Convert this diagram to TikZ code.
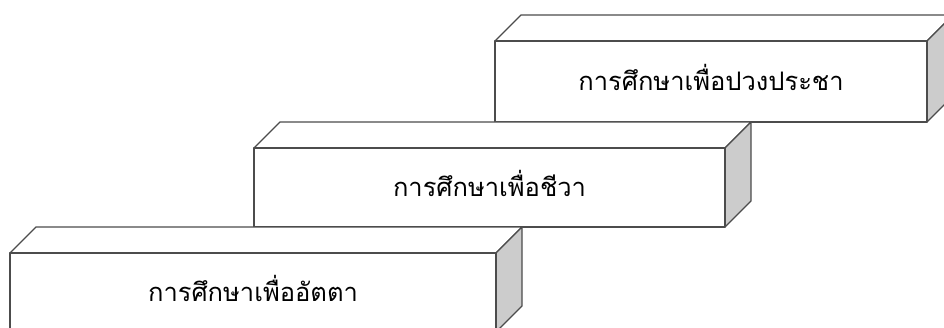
\documentclass[tikz,border=0pt]{standalone}
\usepackage{fontspec}
\newfontfamily\thaifont[Script=Thai]{Loma}
\usetikzlibrary{calc}
\tikzset{
  edge/.style={draw=black!70, line width=1.3pt, line join=round},
  frontface/.style={edge, fill=white},
  topface/.style={edge, fill=white},
  sideface/.style={edge, fill=black!20},
  boxlabel/.style={font=\thaifont\fontsize{25.5}{29}\selectfont, text=black, inner sep=0pt},
}
% #1 name, #2 left x, #3 bottom y, #4 right x, #5 top y, #6 text
\newcommand\cubebox[6]{%
  \coordinate (#1-bl) at (#2,#3);
  \coordinate (#1-br) at (#4,#3);
  \coordinate (#1-tr) at (#4,#5);
  \coordinate (#1-tl) at (#2,#5);
  \coordinate (#1-btl) at ($(#1-tl)+(26,26)$);
  \coordinate (#1-btr) at ($(#1-tr)+(26,26)$);
  \coordinate (#1-bbr) at ($(#1-br)+(26,26)$);
  \path[topface] (#1-tl) -- (#1-btl) -- (#1-btr) -- (#1-tr) -- cycle;
  \path[sideface] (#1-tr) -- (#1-btr) -- (#1-bbr) -- (#1-br) -- cycle;
  \path[frontface] (#1-bl) rectangle (#1-tr);
  \node[boxlabel] (#1-text) at ($($(#1-bl)!0.5!(#1-tr)$)+(0,4)$) {#6};
}
\begin{document}
\begin{tikzpicture}[x=1pt,y=1pt]
  \useasboundingbox (0,0) rectangle (944,327);
  \clip (0,0) rectangle (944,327);
  \cubebox{c}{495}{205}{927}{286}{การศึกษาเพื่อปวงประชา}
  \cubebox{b}{254}{100}{725}{179}{การศึกษาเพื่อชีวา}
  \cubebox{a}{10}{-5}{496}{74}{การศึกษาเพื่ออัตตา}
\end{tikzpicture}
\end{document}
